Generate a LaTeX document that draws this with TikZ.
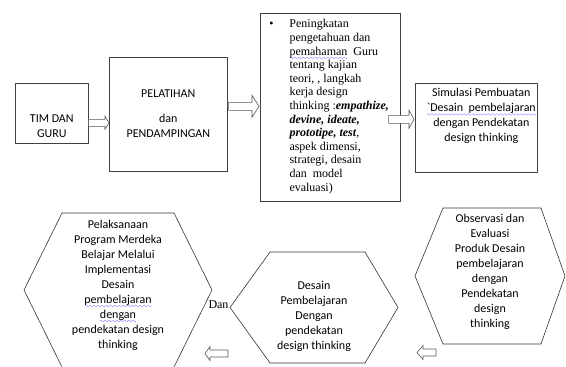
\documentclass[tikz,border=0pt]{standalone}
\usepackage{fontspec}
\setmainfont{Liberation Serif}
\newfontfamily\calibri{Carlito}
\usetikzlibrary{calc}

% spell-check wave under a word
\newsavebox{\wavebox}
\newcommand{\spellwave}[1]{\leavevmode\setbox0\hbox{#1}\rlap{\raisebox{-2.8pt}{\hbox to \wd0{\xleaders\copy\wavebox\hfill}}}\box0}

% text set at the top of a box of fixed size
\newcommand{\toptext}[4]{\parbox[c][#1][t]{#2}{\centering\vspace*{#3}#4}}

% hollow block arrow: from, to, half shaft, half head, head length
\newcommand{\blockarrow}[5]{%
    \draw[arrowline] let \p1=(#1), \p2=(#2), \n1={ifthenelse(\x2>\x1,1,-1)} in
        (\x1,{\y1+#3}) -- ({\x2-(\n1)*#5},{\y1+#3}) -- ({\x2-(\n1)*#5},{\y1+#4})
        -- (\x2,\y1) -- ({\x2-(\n1)*#5},{\y1-#4}) -- ({\x2-(\n1)*#5},{\y1-#3})
        -- (\x1,{\y1-#3}) -- cycle;}

\begin{document}
\sbox{\wavebox}{\begin{pgfpicture}
    \pgfpathmoveto{\pgfpoint{0pt}{0pt}}
    \pgfpathcurveto{\pgfpoint{0.7pt}{1.1pt}}{\pgfpoint{1.3pt}{1.1pt}}{\pgfpoint{2pt}{0pt}}
    \pgfpathcurveto{\pgfpoint{2.7pt}{-1.1pt}}{\pgfpoint{3.3pt}{-1.1pt}}{\pgfpoint{4pt}{0pt}}
    \pgfsetcolor{blue!50}\pgfsetlinewidth{0.35pt}\pgfusepath{stroke}
    \pgfresetboundingbox
    \pgfpathrectangle{\pgfpointorigin}{\pgfpoint{4pt}{0.1pt}}\pgfusepath{use as bounding box}
\end{pgfpicture}}%
\begin{tikzpicture}[x=1pt, y=-1pt,
    box/.style={draw=black!75, line width=0.6pt, inner sep=0pt, font=\calibri\fontsize{12}{15}\selectfont},
    hexline/.style={draw=black!80, line width=0.6pt},
    hextext/.style={align=center, inner sep=0pt, font=\calibri\fontsize{12}{15}\selectfont},
    arrowline/.style={draw=black!65, fill=white, line width=0.6pt}]
    \useasboundingbox (0,0) rectangle (566,367);

    % TIM DAN GURU
    \node[box, anchor=north west] (tim) at (15,83) {\toptext{60pt}{73pt}{31pt}{TIM DAN\\GURU}};

    % PELATIHAN
    \node[box, anchor=north west] (pel) at (109,57) {\toptext{114pt}{118pt}{32pt}{PELATIHAN\\[10pt]dan\\PENDAMPINGAN}};

    % Peningkatan pengetahuan
    \node[box, anchor=north west, font=\fontsize{12}{13.6}\selectfont] (know) at (260,13) {%
        \parbox[c][188pt][t]{140pt}{\vspace*{5pt}\hspace*{9pt}%
        \begin{tabular}[t]{@{}l@{\hspace{16pt}}l@{}}
            \textbullet & Peningkatan \\
            & pengetahuan dan \\
            & \spellwave{pemahaman}\ \ Guru \\
            & tentang kajian \\
            & teori, , langkah \\
            & kerja design \\
            & thinking :\textbf{\textit{empathize,}} \\
            & \textbf{\textit{devine, ideate,}} \\
            & \textbf{\textit{prototipe, test}}, \\
            & aspek dimensi, \\
            & strategi, desain \\
            & dan\ \ model \\
            & evaluasi)
        \end{tabular}}};

    % Simulasi Pembuatan
    \node[box, anchor=north west] (sim) at (415,83) {\toptext{89pt}{122pt}{5pt}{\leftskip=10pt plus 1fil
        Simulasi Pembuatan\\\spellwave{\textasciigrave Desain\ \ pembelajaran}\\dengan Pendekatan\\design thinking}};

    % Pelaksanaan
    \draw[hexline] (24,290) -- (62,213) -- (174,213) -- (212,290) -- (173.3,368.5) -- (62.7,368.5) -- cycle;
    \node[hextext] (impl) at (118,285) {Pelaksanaan\\Program Merdeka\\Belajar Melalui\\Implementasi\\Desain\\
        \spellwave{pembelajaran}\\\spellwave{dengan}\\pendekatan design\\thinking};

    % Desain Pembelajaran
    \draw[hexline] (230,307.5) -- (270,252) -- (365,252) -- (398,307.5) -- (365,363) -- (270,363) -- cycle;
    \node[hextext] (desain) at (314,316) {Desain\\Pembelajaran\\Dengan\\pendekatan\\design thinking};

    % Observasi dan Evaluasi
    \draw[hexline] (415,276) -- (443,208) -- (541,208) -- (565,276) -- (541,344) -- (443,344) -- cycle;
    \node[hextext] (obs) at (490,272) {Observasi dan\\Evaluasi\\Produk Desain\\pembelajaran\\dengan\\Pendekatan\\design\\thinking};

    \node[inner sep=0pt, font=\fontsize{12}{14}\selectfont] (dan) at (218.5,305) {Dan};

    % Arrows
    \coordinate (a1s) at ($(tim.east)+(0,9.5)$);
    \blockarrow{a1s}{pel.west |- a1s}{3.5pt}{6.5pt}{4pt}
    \coordinate (a2s) at ($(pel.east)+(1,-8)$);
    \coordinate (a2e) at ($(know.west |- a2s)+(-1,0)$);
    \blockarrow{a2s}{a2e}{4pt}{11pt}{7pt}
    \coordinate (a3s) at ($(know.east)+(-12,12)$);
    \coordinate (a3e) at ($(sim.west |- a3s)+(-1,0)$);
    \blockarrow{a3s}{a3e}{4pt}{9pt}{5pt}
    \coordinate (a4s) at (228,353.5);
    \coordinate (a4e) at (205,353.5);
    \blockarrow{a4s}{a4e}{3.5pt}{7pt}{5pt}
    \coordinate (a5s) at (436,352.5);
    \coordinate (a5e) at (417,352.5);
    \blockarrow{a5s}{a5e}{3.5pt}{7pt}{6pt}
\end{tikzpicture}
\end{document}
